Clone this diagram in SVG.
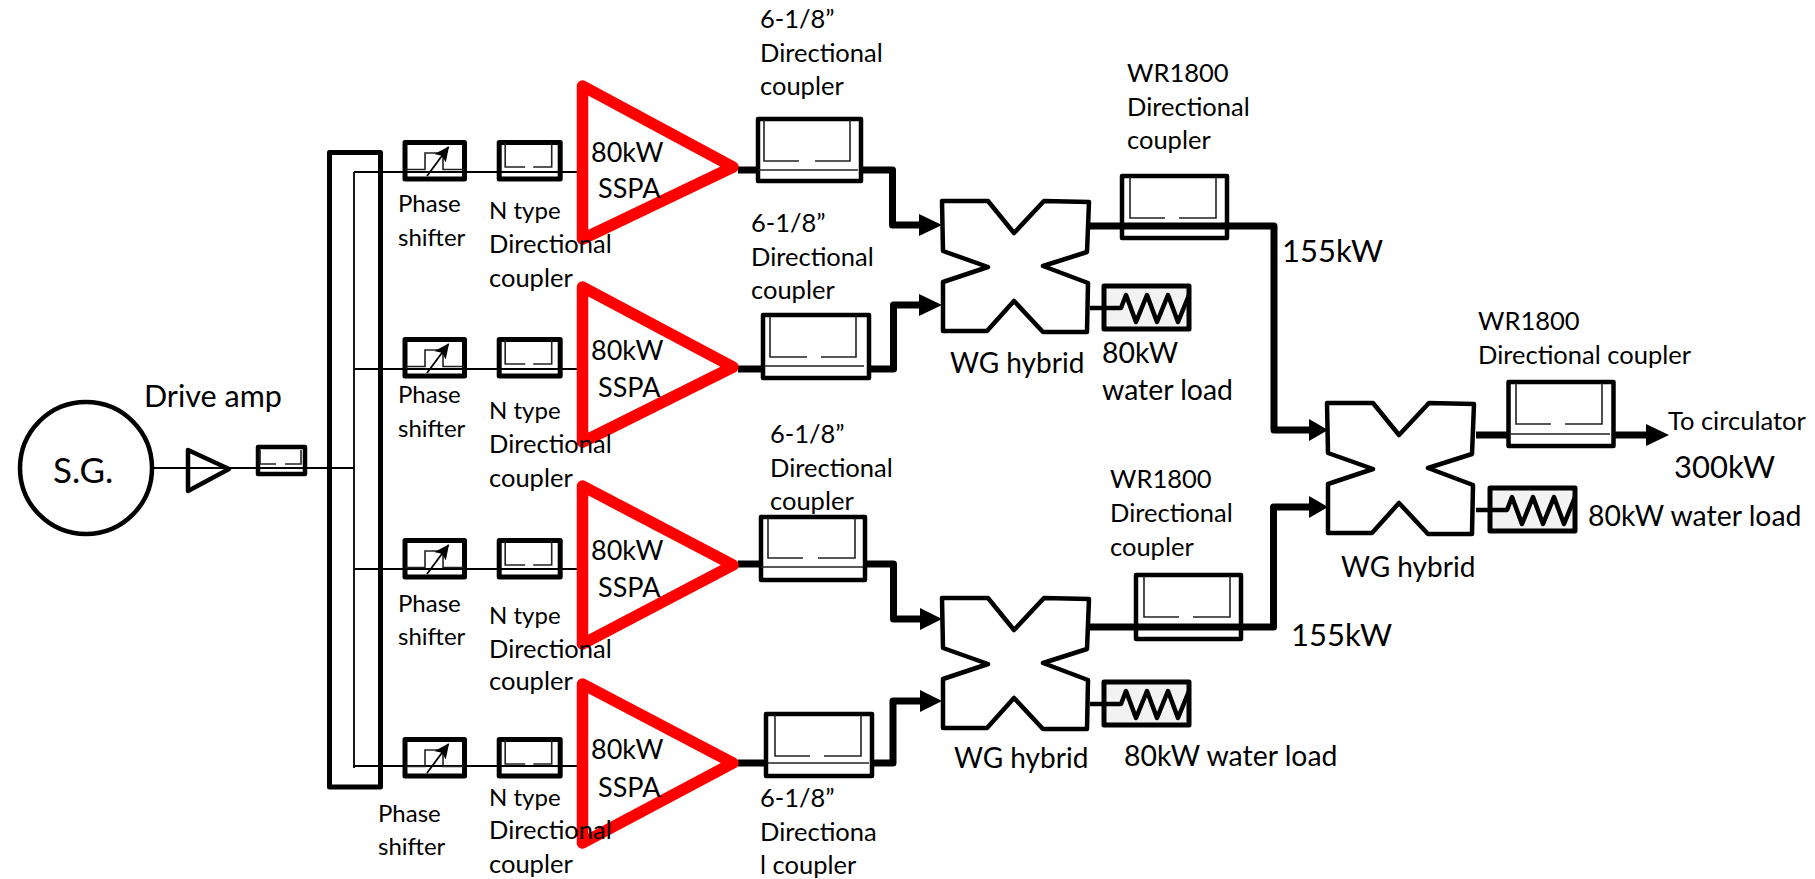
<svg xmlns="http://www.w3.org/2000/svg" width="1815" height="879" viewBox="0 0 1815 879">
<style>
text{font-family:"Lato","Carlito","Liberation Sans",sans-serif;fill:#000}
.t{font-size:25.500px}
.s{font-size:24px}
.m{font-size:27px}
.w{font-size:28.400px}
.h{font-size:28px}
.l{font-size:31px}
.b{font-size:35px}
.box{fill:none;stroke:#000;stroke-width:4.500;stroke-linejoin:round}
.box5{fill:none;stroke:#000;stroke-width:5;stroke-linejoin:round}
.in{fill:none;stroke:#222;stroke-width:1.600}
.thin{fill:none;stroke:#000;stroke-width:1.800}
.thick{fill:none;stroke:#000;stroke-width:7;stroke-linejoin:round}
.red{fill:none;stroke:#f00;stroke-width:11.500;stroke-linejoin:round}
.load{fill:#f2f2f2;stroke:#000;stroke-width:5;stroke-linejoin:round}
.zig{fill:none;stroke:#000;stroke-width:4.500;stroke-linejoin:round}
.hy{fill:none;stroke:#000;stroke-width:4.500;stroke-linejoin:round}
</style>
<defs>
<marker id="ah2" markerUnits="userSpaceOnUse" markerWidth="15" markerHeight="14" refX="14" refY="7" orient="auto"><path d="M0 0L15 7L0 14L3 7Z" fill="#000"/></marker>
<path id="hyb" d="M0 0H46L72 32L102 0L147 1L145 51L101 65L146 82L145 131H101L72 100L45 130H1V81L46 66L1 50Z"/>
<g id="ps"><rect class="box5" x="2.500" y="2.500" width="59.500" height="36.500"/><path class="in" d="M3 29.500H22.500V13H40.500V29.500H62"/><path class="thin" d="M24.500 36L46 7" marker-end="url(#ah2)"/></g>
<g id="nc"><rect class="box5" x="2.500" y="2.500" width="61" height="36.500"/><path class="in" d="M8.500 3V27H28.500M36.500 27H55V3"/></g>
<g id="lo"><rect class="load" x="2" y="2" width="85" height="43"/><path class="zig" d="M-12 24H19L24 11L34 38L45 11L55 38L66 11L76 38L87 11"/></g>
</defs>

<g id="connectors">
<path class="thin" d="M154 468H354M354 172V768M354 172H580M354 369H580M354 569H580M354 766H580"/>
<path class="thick" d="M738 170H758M861 170H892.500V225H920"/>
<path class="thick" d="M738 369H763M869 369H893.500V305H920"/>
<path class="thick" d="M738 564H761M865 564H893.500V619H920"/>
<path class="thick" d="M738 763H766M872 763H893V701H920"/>
<path class="thick" d="M1090 226H1274V430H1310"/>
<path class="thick" d="M1088 627H1273.500V507H1310"/>
<path class="thick" d="M1476 435H1508M1613 435H1648"/>
<g id="arrowheads" fill="#000">
<path d="M919 214L942 225L919 236Z"/><path d="M919 294L942 305L919 316Z"/>
<path d="M920 608L942 619L920 630Z"/><path d="M920 690L942 701L920 712Z"/>
<path d="M1309 419L1328 430L1309 441Z"/><path d="M1309 496L1328 507L1309 518Z"/>
<path d="M1646 424L1669 435L1646 446Z"/>
</g>
</g>

<g id="amp-1"><path class="red" d="M582.500 86L733 167L582.500 239Z"/><text class="m" x="591" y="162">80kW</text><text class="m" x="598" y="198">SSPA</text></g>
<g id="amp-2"><path class="red" d="M582.500 287L733 367L582.500 442Z"/><text class="m" x="591" y="360">80kW</text><text class="m" x="598" y="397">SSPA</text></g>
<g id="amp-3"><path class="red" d="M582.500 486L733 565L582.500 644Z"/><text class="m" x="591" y="560">80kW</text><text class="m" x="598" y="597">SSPA</text></g>
<g id="amp-4"><path class="red" d="M582.500 684L733 763L582.500 843Z"/><text class="m" x="591" y="759">80kW</text><text class="m" x="598" y="797">SSPA</text></g>

<g id="source"><circle cx="86" cy="468" r="66" fill="none" stroke="#000" stroke-width="4.500"/><text class="b" x="53" y="483">S.G.</text></g>
<g id="drive-amp"><path class="box" d="M188 450V491L229 469Z"/><text style="font-size:30.500px" x="144" y="407">Drive amp</text></g>
<g id="drive-coupler"><rect class="box" x="258" y="447" width="47" height="27"/><path class="in" d="M260 450V464H276M285 464H301V450"/></g>
<g id="splitter"><rect class="box5" x="329.500" y="152.500" width="51" height="634.500"/></g>

<g id="ps-1"><use href="#ps" x="402.500" y="140"/><text class="s" x="398" y="212">Phase</text><text class="s" x="398" y="246">shifter</text></g>
<g id="ps-2"><use href="#ps" x="402.500" y="337"/><text class="s" x="398" y="403">Phase</text><text class="s" x="398" y="437">shifter</text></g>
<g id="ps-3"><use href="#ps" x="402.500" y="538"/><text class="s" x="398" y="612">Phase</text><text class="s" x="398" y="645">shifter</text></g>
<g id="ps-4"><use href="#ps" x="402.500" y="737"/><text class="s" x="378" y="822">Phase</text><text class="s" x="378" y="855">shifter</text></g>

<g id="nc-1"><use href="#nc" x="496.700" y="140"/><text class="s" x="489" y="219">N type</text><text class="t" x="489" y="253">Directional</text><text class="t" x="489" y="287">coupler</text></g>
<g id="nc-2"><use href="#nc" x="496.700" y="337"/><text class="s" x="489" y="419">N type</text><text class="t" x="489" y="453">Directional</text><text class="t" x="489" y="487">coupler</text></g>
<g id="nc-3"><use href="#nc" x="496.700" y="538"/><text class="s" x="489" y="624">N type</text><text class="t" x="489" y="658">Directional</text><text class="t" x="489" y="690">coupler</text></g>
<g id="nc-4"><use href="#nc" x="496.700" y="737"/><text class="s" x="489" y="806">N type</text><text class="t" x="489" y="839">Directional</text><text class="t" x="489" y="873">coupler</text></g>

<g id="dc-1"><rect class="box" x="758" y="119" width="103" height="62"/><path class="in" d="M764 120V161H799M815 161H850V120M758 170H858"/><text class="t" x="760" y="28">6-1/8”</text><text class="t" x="760" y="62">Directional</text><text class="t" x="760" y="95">coupler</text></g>
<g id="dc-2"><rect class="box" x="763" y="315" width="106" height="63"/><path class="in" d="M770 316V357H807M821 357H856V316M764 366H864"/><text class="t" x="751" y="232">6-1/8”</text><text class="t" x="751" y="266">Directional</text><text class="t" x="751" y="299">coupler</text></g>
<g id="dc-3"><rect class="box" x="761" y="517" width="104" height="63"/><path class="in" d="M768 518V558H803M818 558H855V518M761 567H863"/><text class="t" x="770" y="443">6-1/8”</text><text class="t" x="770" y="477">Directional</text><text class="t" x="770" y="510">coupler</text></g>
<g id="dc-4"><rect class="box" x="766" y="714" width="106" height="62"/><path class="in" d="M775 715V756H810M824 756H861V715M767 763H869"/><text class="t" x="760" y="807">6-1/8”</text><text class="t" x="760" y="841">Directiona</text><text class="t" x="760" y="874">l coupler</text></g>

<g id="dc-5"><rect class="box" x="1122" y="176" width="105" height="62"/><path class="in" d="M1130 177V218H1165M1179 218H1216V177"/><text class="t" x="1127" y="82">WR1800</text><text class="t" x="1127" y="116">Directional</text><text class="t" x="1127" y="149">coupler</text></g>
<g id="dc-6"><rect class="box" x="1136" y="575" width="105" height="64"/><path class="in" d="M1144 576V617H1179M1193 617H1230V576"/><text class="t" x="1110" y="488">WR1800</text><text class="t" x="1110" y="522">Directional</text><text class="t" x="1110" y="556">coupler</text></g>
<g id="dc-7"><rect class="box" x="1508.500" y="382" width="105" height="64"/><path class="in" d="M1516 383V424H1551M1565 424H1602V383M1509 434H1610"/><text class="t" x="1478" y="330">WR1800</text><text class="t" x="1478" y="364">Directional coupler</text></g>

<g id="hybrid-1"><use href="#hyb" class="hy" x="942" y="201"/><text class="h" x="950" y="373">WG hybrid</text></g>
<g id="hybrid-2"><use href="#hyb" class="hy" x="942" y="598"/><text class="h" x="954" y="768">WG hybrid</text></g>
<g id="hybrid-3"><use href="#hyb" class="hy" x="1327" y="403"/><text class="h" x="1341" y="577">WG hybrid</text></g>

<g id="load-1"><use href="#lo" x="1102" y="284"/><text class="w" x="1102" y="363">80kW</text><text class="w" x="1102" y="400">water load</text></g>
<g id="load-2"><use href="#lo" x="1102" y="680"/><text class="w" x="1124" y="766">80kW water load</text></g>
<g id="load-3"><use href="#lo" x="1488" y="486"/><text class="w" x="1588" y="526">80kW water load</text></g>

<g id="labels"><text class="l" x="1282" y="262">155kW</text><text class="l" x="1291" y="646">155kW</text><text class="t" x="1668" y="430">To circulator</text><text class="l" x="1674" y="478">300kW</text></g>
</svg>
